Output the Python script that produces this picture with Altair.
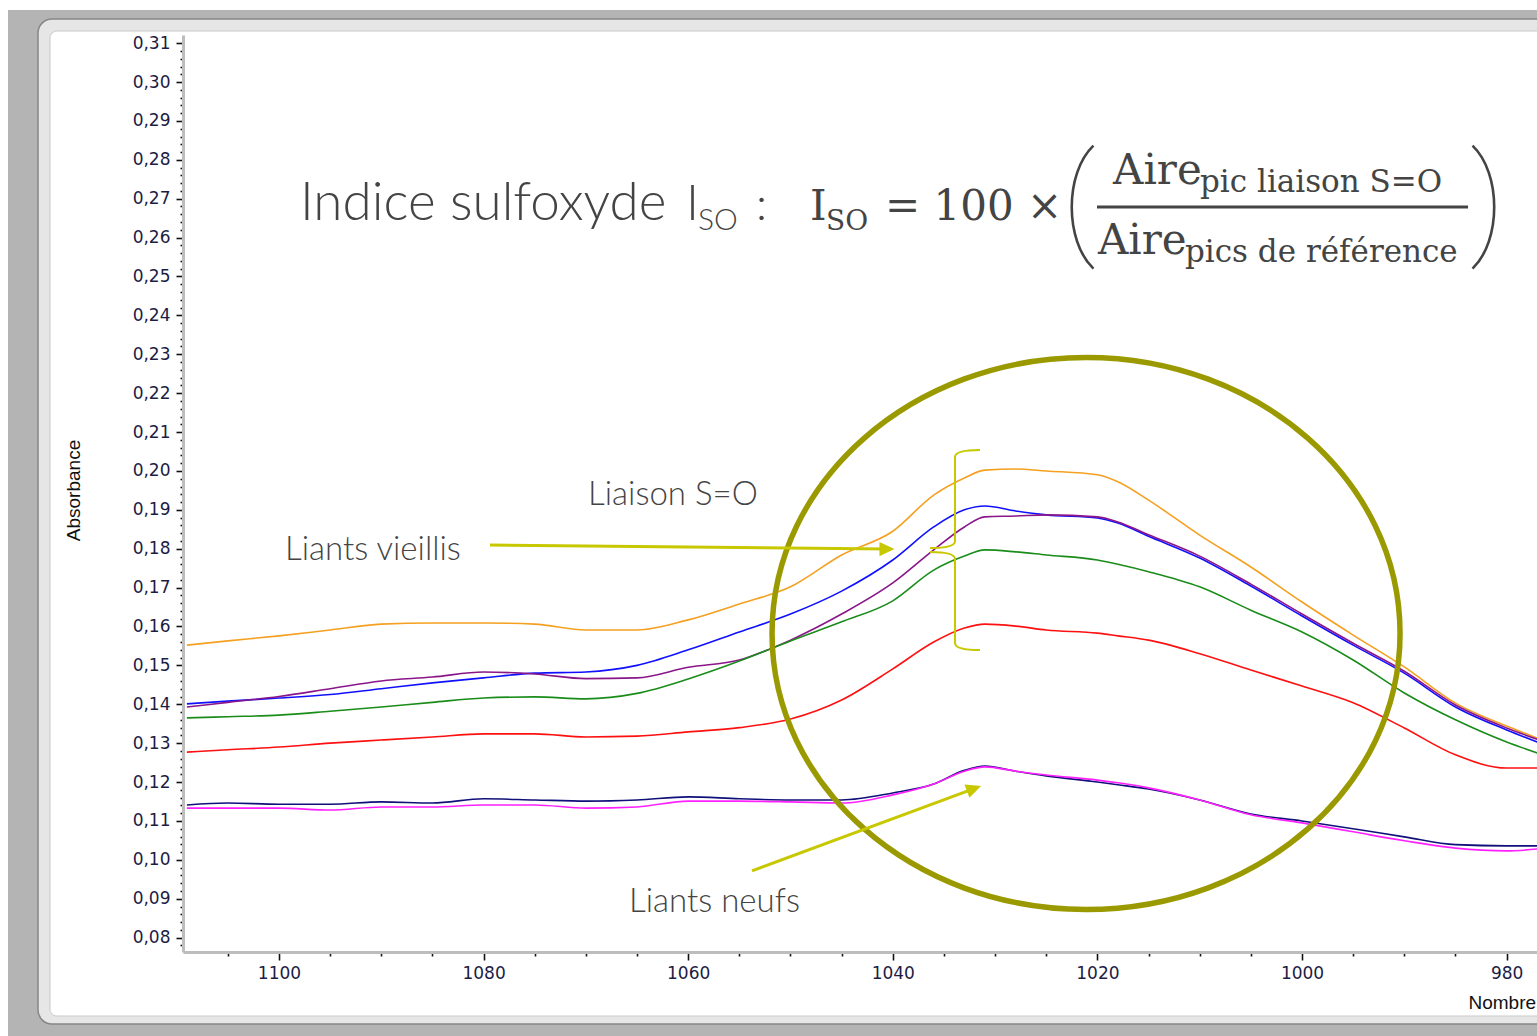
import altair as alt
import pandas as pd

# ---------------------------------------------------------------- data
wavenumbers = [1109, 1105, 1100, 1095, 1090, 1085, 1080, 1075, 1070, 1065,
               1060, 1055, 1050, 1045, 1040, 1036, 1033, 1031, 1028, 1025,
               1020, 1018, 1015, 1010, 1005, 1000, 995, 990, 985, 980, 977]

# aged binders
aged_orange = [0.1552, 0.1563, 0.1576, 0.1591, 0.1606, 0.1609, 0.1609, 0.1606, 0.1591, 0.1591,
               0.1617, 0.1658, 0.1702, 0.1784, 0.1845, 0.1938, 0.1982, 0.2002, 0.2005, 0.2000,
               0.1990, 0.1972, 0.1925, 0.1835, 0.1753, 0.1663, 0.1578, 0.1496, 0.1403, 0.1344, 0.1313]
aged_blue = [0.1401, 0.1408, 0.1416, 0.1425, 0.1440, 0.1455, 0.1468, 0.1480, 0.1483, 0.1500,
             0.1540, 0.1586, 0.1632, 0.1691, 0.1771, 0.1856, 0.1900, 0.1910, 0.1897, 0.1887,
             0.1879, 0.1866, 0.1832, 0.1776, 0.1704, 0.1627, 0.1552, 0.1480, 0.1393, 0.1334, 0.1303]
aged_purple = [0.1393, 0.1405, 0.1420, 0.1440, 0.1460, 0.1470, 0.1483, 0.1478, 0.1466, 0.1468,
               0.1495, 0.1514, 0.1565, 0.1632, 0.1712, 0.1797, 0.1856, 0.1882, 0.1884, 0.1887,
               0.1882, 0.1869, 0.1836, 0.1781, 0.1709, 0.1632, 0.1557, 0.1485, 0.1398, 0.1339, 0.1310]
aged_green = [0.1365, 0.1368, 0.1372, 0.1382, 0.1393, 0.1405, 0.1416, 0.1419, 0.1414, 0.1428,
              0.1465, 0.1511, 0.1563, 0.1612, 0.1666, 0.1745, 0.1781, 0.1797, 0.1792, 0.1784,
              0.1771, 0.1760, 0.1741, 0.1702, 0.1642, 0.1586, 0.1514, 0.1429, 0.1360, 0.1303, 0.1275]
aged_red = [0.1277, 0.1283, 0.1290, 0.1300, 0.1308, 0.1316, 0.1324, 0.1324, 0.1316, 0.1318,
            0.1329, 0.1340, 0.1362, 0.1411, 0.1491, 0.1560, 0.1596, 0.1606, 0.1601, 0.1591,
            0.1583, 0.1576, 0.1565, 0.1530, 0.1488, 0.1447, 0.1404, 0.1339, 0.1270, 0.1236, 0.1236]
# fresh binders
fresh_navy = [0.1141, 0.1146, 0.1143, 0.1143, 0.1149, 0.1146, 0.1157, 0.1154, 0.1151, 0.1154,
              0.1162, 0.1157, 0.1154, 0.1154, 0.1172, 0.1195, 0.1230, 0.1241, 0.1228, 0.1216,
              0.1200, 0.1193, 0.1182, 0.1154, 0.1118, 0.1100, 0.1080, 0.1059, 0.1039, 0.1036, 0.1036]
fresh_magenta = [0.1133, 0.1133, 0.1133, 0.1128, 0.1136, 0.1136, 0.1141, 0.1141, 0.1133, 0.1136,
                 0.1151, 0.1151, 0.1149, 0.1146, 0.1167, 0.1195, 0.1228, 0.1239, 0.1228, 0.1218,
                 0.1205, 0.1198, 0.1185, 0.1154, 0.1116, 0.1095, 0.1072, 0.1049, 0.1030, 0.1023, 0.1028]

series_names = ["vieilli A", "vieilli B", "vieilli C", "vieilli D", "vieilli E", "neuf A", "neuf B"]
series_values = [aged_orange, aged_blue, aged_purple, aged_green, aged_red, fresh_navy, fresh_magenta]
series_colors = ["#f5a020", "#1010ff", "#8a168a", "#1a8c1a", "#ff1010", "#10107a", "#ff20ff"]

# axis ticks: labelled every 20 cm-1 / 0,01, minor ticks in between
x_ticks = list(range(980, 1110, 5))
y_ticks = [i / 1000 for i in range(78, 312, 2)]

x_domain = [977.03, 1109.38]
y_domain = [0.0763, 0.3121]

W, H = 1354, 917
PAD = {"left": 183, "top": 35, "right": 0, "bottom": 84}

# ---------------------------------------------------------------- tables
rows = []
for name, vals in zip(series_names, series_values):
    for w, a in zip(wavenumbers, vals):
        rows.append({"serie": name, "nombre_onde": w, "absorbance": a})
spectra = pd.DataFrame(rows)

Y_MAJOR_TEST = "abs(datum.value * 100 - round(datum.value * 100)) < 1e-6"

X = alt.X("nombre_onde:Q", scale=alt.Scale(domain=x_domain, reverse=True, nice=False, zero=False),
          axis=alt.Axis(
              values=x_ticks, tickCount=400,
              labelExpr="datum.value % 20 === 0 ? format(datum.value, 'd') : ''",
              labelOverlap=False,
              labelFont="DejaVu Sans", labelFontSize=17, labelColor="#1c1c44",
              labelPadding=5,
              tickColor="#111111", tickWidth=1.6,
              tickSize={"condition": {"test": "datum.value % 20 === 0", "value": 8}, "value": 4},
              domainColor="#bdbdbd", domainWidth=3,
              grid=False, zindex=2,
              title="Nombre d'onde (cm-1)",
              titleFont="Liberation Sans", titleFontSize=19, titleFontWeight="normal",
              titleColor="#111111",
              titleX=1285, titleY=56, titleAlign="left", titleBaseline="alphabetic",
          ))
Y = alt.Y("absorbance:Q", scale=alt.Scale(domain=y_domain, nice=False, zero=False),
          axis=alt.Axis(
              values=y_ticks, tickCount=400,
              labelExpr=Y_MAJOR_TEST + " ? replace(format(datum.value, '.2f'), '.', ',') : ''",
              labelOverlap=False,
              labelFont="DejaVu Sans", labelFontSize=17, labelColor="#1c1c44",
              labelPadding=6,
              tickColor="#111111", tickWidth=1.6,
              tickSize={"condition": {"test": Y_MAJOR_TEST, "value": 7}, "value": 3},
              domainColor="#bdbdbd", domainWidth=3,
              grid=False, zindex=2,
              title="Absorbance",
              titleFont="Liberation Sans", titleFontSize=19, titleFontWeight="normal",
              titleColor="#111111",
              titleX=-110, titleY=455, titleAngle=270, titleAlign="center", titleBaseline="middle",
          ))

one = pd.DataFrame({"k": [0]})

# ---------------------------------------------------------------- frame
frame_bg = alt.Chart(one).mark_rect(color="#b4b4b4").encode(
    x=alt.value(-175), x2=alt.value(1400), y=alt.value(-25), y2=alt.value(1010))
frame_edge = alt.Chart(one).mark_rect(
    fill="#e6e6e6", stroke="#878787", strokeWidth=1.5, cornerRadius=14).encode(
    x=alt.value(-145), x2=alt.value(1400), y=alt.value(-16), y2=alt.value(989))
frame_inner = alt.Chart(one).mark_rect(
    fill="#ffffff", stroke="#c9c9c9", strokeWidth=1, cornerRadius=7).encode(
    x=alt.value(-133), x2=alt.value(1400), y=alt.value(-4), y2=alt.value(981))

# ---------------------------------------------------------------- spectra
lines = alt.Chart(spectra).mark_line(strokeWidth=1.6, interpolate="monotone").encode(
    x=X, y=Y,
    color=alt.Color("serie:N", scale=alt.Scale(domain=series_names, range=series_colors), legend=None),
    detail="serie:N",
)

# ---------------------------------------------------------------- annotations
ann_yellow = "#c8c800"
ann_olive = "#9a9a00"
ann_text = "#444444"

arrows = pd.DataFrame({
    "x1": [1079.37, 1053.76], "y1": [0.18095, 0.09715],
    "x2": [1040.57, 1032.06], "y2": [0.17992, 0.11833],
    "angle": [0, 340],
})
arrow_shafts = alt.Chart(arrows).mark_rule(color=ann_yellow, strokeWidth=3).encode(
    x=alt.X("x1:Q"), y=alt.Y("y1:Q"), x2="x2:Q", y2="y2:Q")
arrow_heads = alt.Chart(arrows).mark_point(
    shape="M 1 0 L -1 -0.95 L -1 0.95 Z", filled=True, size=225, opacity=1, color=ann_yellow
).encode(x="x2:Q", y="y2:Q", angle=alt.Angle("angle:Q", scale=None))

ellipse_path = ("M 1.1377 0 C 1.1377 0.5523 0.6283 1 0 1 C -0.6283 1 -1.1377 0.5523 -1.1377 0 "
                "C -1.1377 -0.5523 -0.6283 -1 0 -1 C 0.6283 -1 1.1377 -0.5523 1.1377 0 Z")
circle_zone = alt.Chart(pd.DataFrame({"x": [1021.11], "y": [0.1582]})).mark_point(
    shape=ellipse_path, filled=False, size=552 ** 2, strokeWidth=5.5, opacity=1, color=ann_olive
).encode(x="x:Q", y="y:Q")

brace_path = ("M 0.25 -1 Q 0 -1 0 -0.93 L 0 -0.09 Q 0 -0.02 -0.25 -0.02 "
              "M -0.25 0.02 Q 0 0.02 0 0.09 L 0 0.93 Q 0 1 0.25 1")
brace = alt.Chart(pd.DataFrame({"x": [1033.92], "y": [0.17967]})).mark_point(
    shape=brace_path, filled=False, size=200 ** 2, strokeWidth=2, opacity=1, color=ann_yellow
).encode(x="x:Q", y="y:Q")

# labels in the plot and the index title
sans_labels = pd.DataFrame({
    "txt": ["Indice sulfoxyde", "I", "SO", ":", "Liaison S=O", "Liants vieillis", "Liants neufs"],
    "x": [1097.95, 1060.21, 1059.04, 1053.37, 1069.79, 1099.41, 1065.79],
    "y": [0.2645, 0.2645, 0.26193, 0.2645, 0.19123, 0.17710, 0.08661],
    "fs": [53, 50, 30, 46, 33, 33, 33],
})
sans_text = alt.Chart(sans_labels).mark_text(
    align="left", baseline="alphabetic", font="Lato", fontWeight=300, color=ann_text
).encode(x="x:Q", y="y:Q", text="txt:N", size=alt.Size("fs:Q", scale=None))

# formula  I_SO = 100 x ( Aire_pic / Aire_pics )
formula = pd.DataFrame({
    "txt": ["I", "SO", "= 100 ×", "Aire", "pic liaison S=O", "Aire", "pics de référence"],
    "x": [1048.09, 1046.53, 1040.76, 1018.47, 1009.97, 1019.94, 1011.44],
    "y": [0.2645, 0.26193, 0.2645, 0.27375, 0.2717, 0.25576, 0.2537],
    "fs": [42, 28, 42, 42, 31, 42, 31],
})
formula_text = alt.Chart(formula).mark_text(
    align="left", baseline="alphabetic", font="DejaVu Serif", color=ann_text
).encode(x="x:Q", y="y:Q", text="txt:N", size=alt.Size("fs:Q", scale=None))

fraction_bar = alt.Chart(pd.DataFrame({"x1": [1020.04], "x2": [983.77], "y": [0.26784]})).mark_rule(
    color=ann_text, strokeWidth=3).encode(x="x1:Q", x2="x2:Q", y="y:Q")

parens = pd.DataFrame({
    "x": [1021.41, 982.31], "y": [0.26784, 0.26784],
    "side": ["gauche", "droite"],
})
paren_left = alt.Chart(parens[parens.side == "gauche"]).mark_point(
    shape="M 0.17 -1 C -0.3 -0.55 -0.3 0.55 0.17 1", filled=False, size=123 ** 2,
    strokeWidth=2.6, opacity=1, color=ann_text
).encode(x="x:Q", y="y:Q")
paren_right = alt.Chart(parens[parens.side == "droite"]).mark_point(
    shape="M -0.17 -1 C 0.3 -0.55 0.3 0.55 -0.17 1", filled=False, size=123 ** 2,
    strokeWidth=2.6, opacity=1, color=ann_text
).encode(x="x:Q", y="y:Q")

chart = alt.layer(
    frame_bg, frame_edge, frame_inner,
    lines,
    circle_zone, brace, arrow_shafts, arrow_heads,
    sans_text, formula_text, fraction_bar, paren_left, paren_right,
).properties(
    width=W, height=H,
    autosize=alt.AutoSizeParams(type="none"),
    padding=PAD,
    background="#ffffff",
).configure_view(stroke=None)

chart.save("out.html", embed_options={"renderer": "svg", "actions": False})
